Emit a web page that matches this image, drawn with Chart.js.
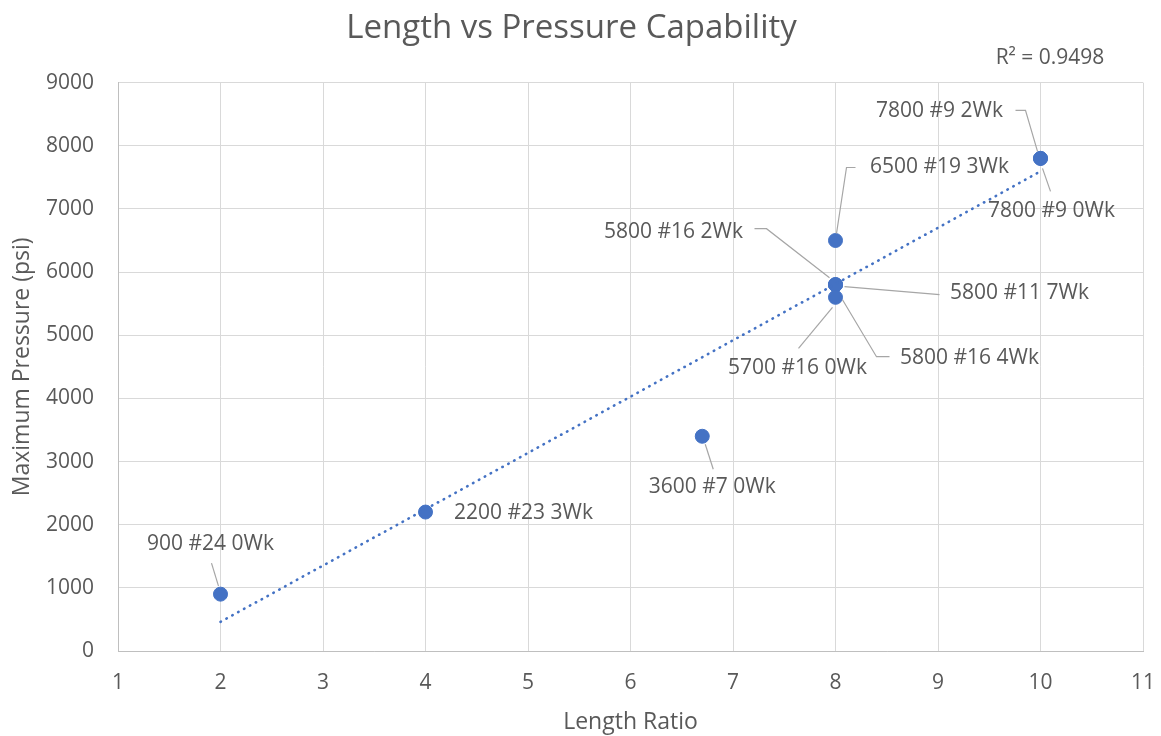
<!DOCTYPE html>
<html>
<head>
<meta charset="utf-8">
<title>Length vs Pressure Capability</title>
<script src="https://cdn.jsdelivr.net/npm/chart.js@4.4.0/dist/chart.umd.min.js"></script>
<style>
    html, body { margin: 0; padding: 0; background: #ffffff; }
</style>
</head>
<body>
<canvas id="pressureChart" width="1161" height="736"></canvas>
<script>
// data
const lengthRatio = [2, 4, 6.7, 8, 8, 8, 8, 8, 10, 10];
const maxPressure = [900, 2200, 3400, 6500, 5800, 5800, 5800, 5600, 7800, 7800];
const pointLabels = [
    '900 #24 0Wk', '2200 #23 3Wk', '3600 #7 0Wk', '6500 #19 3Wk', '5800 #16 2Wk',
    '5800 #11 7Wk', '5800 #16 4Wk', '5700 #16 0Wk', '7800 #9 2Wk', '7800 #9 0Wk'
];
const xTicks = [1, 2, 3, 4, 5, 6, 7, 8, 9, 10, 11];
const yTicks = [0, 1000, 2000, 3000, 4000, 5000, 6000, 7000, 8000, 9000];

// where each label sits relative to its point (pixels), and its leader line
const labelLayout = [
    { text: [-10, -50], leader: [[-9, -31], [-2, -8]] },
    { text: [98, 1], leader: [] },
    { text: [10, 51], leader: [[3, 8], [11, 33]] },
    { text: [104, -73], leader: [[20, -73], [11, -73], [1, -7]] },
    { text: [-162, -53], leader: [[-81, -56], [-69, -56], [-6, -7]] },
    { text: [184, 8], leader: [[9, 2], [104, 10]] },
    { text: [134, 73], leader: [[7, 15], [41, 72], [54, 72]] },
    { text: [-38, 71], leader: [[-3, 10], [-37, 51]] },
    { text: [-101, -47], leader: [[-25, -48], [-15, -48], [-3, -7]] },
    { text: [11, 53], leader: [[2, 10], [10, 33]] }
];

const FONT = "'Open Sans', 'DejaVu Sans', sans-serif";
const TEXT = '#595959';
const BLUE = '#4472C4';

// linear trendline (least squares) and its R²
const n = lengthRatio.length;
const meanX = lengthRatio.reduce((a, b) => a + b, 0) / n;
const meanY = maxPressure.reduce((a, b) => a + b, 0) / n;
let sxx = 0, sxy = 0, syy = 0;
for (let i = 0; i < n; i++) {
    const dx = lengthRatio[i] - meanX;
    const dy = maxPressure[i] - meanY;
    sxx += dx * dx;
    sxy += dx * dy;
    syy += dy * dy;
}
const slope = sxy / sxx;
const intercept = meanY - slope * meanX;
const rSquared = (sxy * sxy) / (sxx * syy);
const xMin = Math.min(...lengthRatio);
const xMax = Math.max(...lengthRatio);
const trendPoints = [xMin, xMax].map(x => ({ x: x, y: intercept + slope * x }));

const labelPlugin = {
    id: 'pointLabels',
    afterDatasetsDraw(chart) {
        const ctx = chart.ctx;
        const xs = chart.scales.x;
        const ys = chart.scales.y;
        ctx.save();
        pointLabels.forEach((label, i) => {
            const px = xs.getPixelForValue(lengthRatio[i]);
            const py = ys.getPixelForValue(maxPressure[i]);
            const lay = labelLayout[i];
            if (lay.leader.length) {
                ctx.beginPath();
                ctx.strokeStyle = '#a6a6a6';
                ctx.lineWidth = 1.2;
                lay.leader.forEach((p, k) => {
                    if (k === 0) ctx.moveTo(px + p[0], py + p[1]);
                    else ctx.lineTo(px + p[0], py + p[1]);
                });
                ctx.stroke();
            }
            ctx.fillStyle = TEXT;
            ctx.font = '21px ' + FONT;
            ctx.textAlign = 'center';
            ctx.textBaseline = 'middle';
            ctx.fillText(label, px + lay.text[0], py + lay.text[1]);
        });

        // trendline R² label above the plot area
        const area = chart.chartArea;
        ctx.font = '21px ' + FONT;
        ctx.textAlign = 'center';
        ctx.fillText('R² = ' + rSquared.toFixed(4), area.right - 93, area.top - 25);
        ctx.restore();
    }
};

new Chart(document.getElementById('pressureChart'), {
    type: 'scatter',
    data: {
        datasets: [
            {
                label: 'Maximum Pressure',
                data: lengthRatio.map((x, i) => ({ x: x, y: maxPressure[i] })),
                backgroundColor: BLUE,
                borderColor: BLUE,
                pointRadius: 7,
                pointHoverRadius: 7,
                order: 1
            },
            {
                type: 'line',
                label: 'Linear trend',
                data: trendPoints,
                borderColor: BLUE,
                borderWidth: 2.6,
                borderDash: [0.5, 6.2],
                borderCapStyle: 'round',
                pointRadius: 0,
                fill: false,
                order: 0
            }
        ]
    },
    options: {
        responsive: false,
        animation: false,
        layout: { padding: { left: 0, right: 18, top: 0, bottom: 0 } },
        plugins: {
            legend: { display: false },
            tooltip: { enabled: false },
            title: {
                display: true,
                text: 'Length vs Pressure Capability',
                color: TEXT,
                font: { family: FONT, size: 33, weight: 'normal' },
                padding: { top: 9, bottom: 34 }
            }
        },
        scales: {
            x: {
                type: 'linear',
                min: xTicks[0],
                max: xTicks[xTicks.length - 1],
                afterBuildTicks: scale => { scale.ticks = xTicks.map(v => ({ value: v })); },
                afterFit: scale => {
                    scale.height = 85;
                    scale.paddingLeft = 0;
                    scale.paddingRight = 0;
                },
                grid: { color: '#d9d9d9', drawTicks: false },
                border: { color: '#bfbfbf' },
                ticks: { color: TEXT, font: { family: FONT, size: 21 }, padding: 19 },
                title: {
                    display: true,
                    text: 'Length Ratio',
                    color: TEXT,
                    font: { family: FONT, size: 23 },
                    padding: { top: 0, bottom: 0 }
                }
            },
            y: {
                type: 'linear',
                min: yTicks[0],
                max: yTicks[yTicks.length - 1],
                afterBuildTicks: scale => { scale.ticks = yTicks.map(v => ({ value: v })); },
                afterFit: scale => { scale.width = 118; },
                grid: { color: '#d9d9d9', drawTicks: false },
                border: { color: '#bfbfbf' },
                ticks: {
                    color: TEXT,
                    font: { family: FONT, size: 21 },
                    padding: 24,
                    callback: value => String(value)
                },
                title: {
                    display: true,
                    text: 'Maximum Pressure (psi)',
                    color: TEXT,
                    font: { family: FONT, size: 23 },
                    padding: { top: 9, bottom: 0 }
                }
            }
        }
    },
    plugins: [labelPlugin]
});
</script>
</body>
</html>
